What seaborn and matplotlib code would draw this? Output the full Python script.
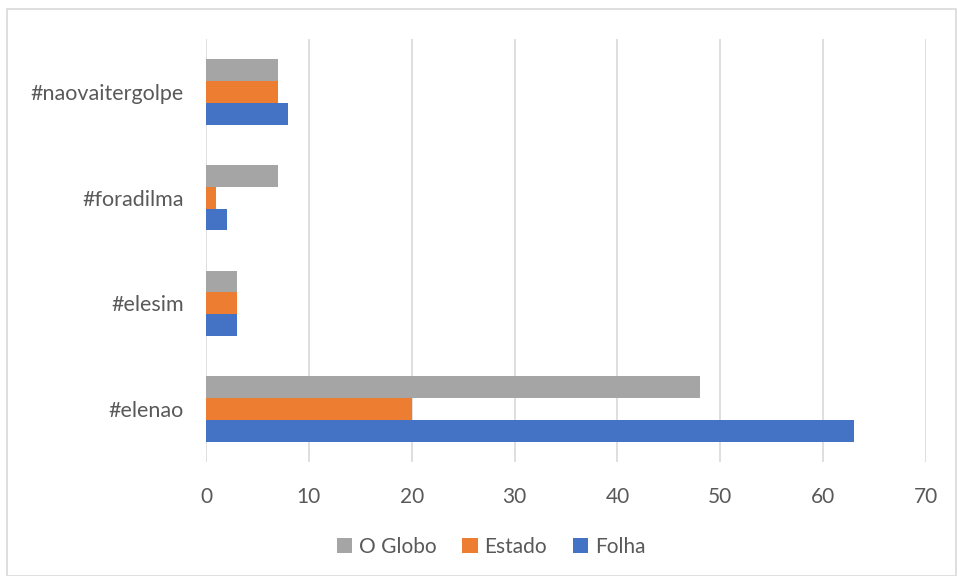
import pandas as pd
import seaborn as sns
import matplotlib.pyplot as plt
from matplotlib.patches import Rectangle

hashtags = ['#naovaitergolpe', '#foradilma', '#elesim', '#elenao']
series = ['O Globo', 'Estado', 'Folha']
o_globo = [7, 7, 3, 48]
estado = [7, 1, 3, 20]
folha = [8, 2, 3, 63]

palette = {'O Globo': '#a5a5a5', 'Estado': '#ed7d31', 'Folha': '#4472c4'}

rows = []
for name, vals in zip(series, [o_globo, estado, folha]):
    for tag, v in zip(hashtags, vals):
        rows.append({'hashtag': tag, 'jornal': name, 'valor': v})
df = pd.DataFrame(rows)

sns.set_theme(style="white")
plt.rcParams['font.family'] = ['Lato', 'DejaVu Sans']

fig = plt.figure(figsize=(9.57, 5.76), dpi=100)
ax = fig.add_axes([206 / 957, 1 - 462 / 576, 720 / 957, 423 / 576])

sns.barplot(data=df, y='hashtag', x='valor', hue='jornal', order=hashtags,
            hue_order=series, palette=palette, orient='h', width=0.62,
            saturation=1, linewidth=0, ax=ax, legend=True)

ax.set_xlim(0, 70)
ax.set_ylim(3.5, -0.5)
ax.set_xticks(range(0, 71, 10))
ax.grid(axis='x', color='#d9d9d9', lw=1.2)
ax.set_axisbelow(True)
for s in ax.spines.values():
    s.set_visible(False)
ax.set_xlabel('')
ax.set_ylabel('')
ax.tick_params(axis='both', length=0, labelsize=15, colors='#595959')
ax.tick_params(axis='y', labelsize=15.5)
ax.tick_params(axis='x', pad=18)
ax.tick_params(axis='y', pad=16)

handles, labels = ax.get_legend_handles_labels()
ax.legend_.remove()
fig.legend(handles, labels, loc='center', bbox_to_anchor=(491 / 957, 1 - 547 / 576),
           ncol=3, frameon=False, fontsize=15, handlelength=0.75,
           handleheight=0.75, handletextpad=0.3, columnspacing=1.25,
           labelcolor='#595959')

fig.patches.append(Rectangle((7 / 957, 0), 949 / 957, 1 - 9 / 576,
                             transform=fig.transFigure, fill=False,
                             edgecolor='#d9d9d9', lw=1.2))

fig.savefig('out.png', dpi=100)
